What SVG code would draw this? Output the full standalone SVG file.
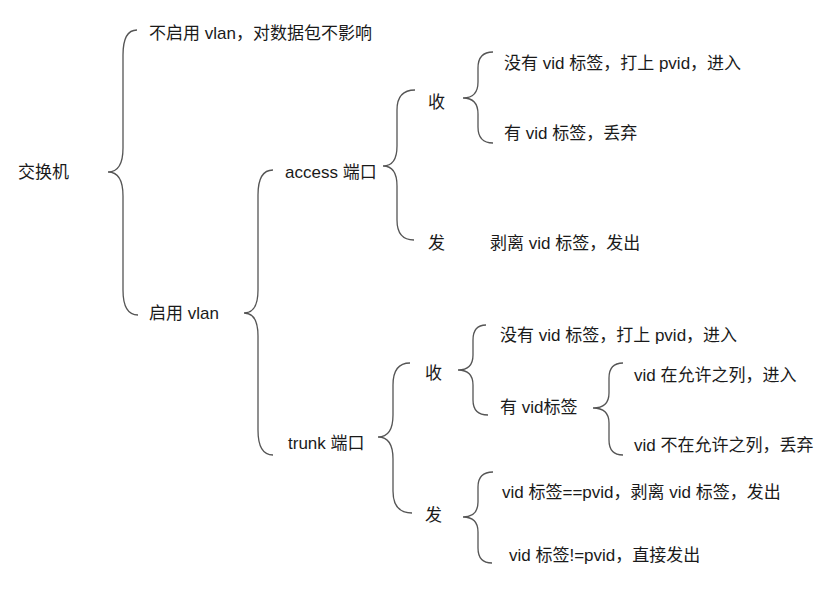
<svg xmlns="http://www.w3.org/2000/svg" width="835" height="593" viewBox="0 0 835 593">
<style>
text{font-family:"Liberation Sans","Noto Sans CJK SC",sans-serif;font-size:17px;fill:#1a1a1a}
.b{fill:none;stroke:#555;stroke-width:1.3}
</style>
<rect width="835" height="593" fill="#fff"/>
<g id="connectors">
<path class="b" d="M137 30 Q123 30 123 55 L123 148 Q123 172 108 172 Q123 172 123 196 L123 290 Q123 315 138 315"/>
<path class="b" d="M273 170 Q258 170 258 195 L258 290 Q258 313 244 313 Q258 313 258 336 L258 430 Q258 455 273 455"/>
<path class="b" d="M415 90 Q397 90 397 110 L397 146 Q397 166 383 166 Q397 166 397 186 L397 220 Q397 240 414 240"/>
<path class="b" d="M493 52 Q478 52 478 68 L478 82 Q478 98 463 98 Q478 98 478 114 L478 127 Q478 143 493 143"/>
<path class="b" d="M410 363 Q393 363 393 385 L393 415 Q393 437 378 437 Q393 437 393 459 L393 491 Q393 513 412 513"/>
<path class="b" d="M486 325 Q473 325 473 340 L473 355 Q473 370 458 370 Q473 370 473 385 L473 400 Q473 415 488 415"/>
<path class="b" d="M623 363 Q609 363 609 378 L609 393 Q609 408 593 408 Q609 408 609 423 L609 440 Q609 455 623 455"/>
<path class="b" d="M493 472 Q478 472 478 487 L478 502 Q478 517 463 517 Q478 517 478 532 L478 548 Q478 563 492 563"/>
</g>
<g id="n-switch"><text x="18" y="178">交换机</text></g>
<g id="n-novlan"><text x="149" y="39">不启用 vlan，对数据包不影响</text></g>
<g id="n-vlan"><text x="149" y="319">启用 vlan</text></g>
<g id="n-access"><text x="285" y="178">access 端口</text></g>
<g id="n-trunk"><text x="288" y="449">trunk 端口</text></g>
<g id="n-a-recv"><text x="428" y="108">收</text></g>
<g id="n-a-send"><text x="428" y="249">发</text></g>
<g id="n-a-r1"><text x="504" y="69">没有 vid 标签，打上 pvid，进入</text></g>
<g id="n-a-r2"><text x="504" y="139">有 vid 标签，丢弃</text></g>
<g id="n-a-s1"><text x="490" y="249">剥离 vid 标签，发出</text></g>
<g id="n-t-recv"><text x="425" y="379">收</text></g>
<g id="n-t-send"><text x="425" y="521">发</text></g>
<g id="n-t-r1"><text x="500" y="341">没有 vid 标签，打上 pvid，进入</text></g>
<g id="n-t-r2"><text x="500" y="413">有 vid标签</text></g>
<g id="n-t-r2a"><text x="634" y="381">vid 在允许之列，进入</text></g>
<g id="n-t-r2b"><text x="634" y="451">vid 不在允许之列，丢弃</text></g>
<g id="n-t-s1"><text x="502" y="498">vid 标签==pvid，剥离 vid 标签，发出</text></g>
<g id="n-t-s2"><text x="509" y="561">vid 标签!=pvid，直接发出</text></g>
</svg>
